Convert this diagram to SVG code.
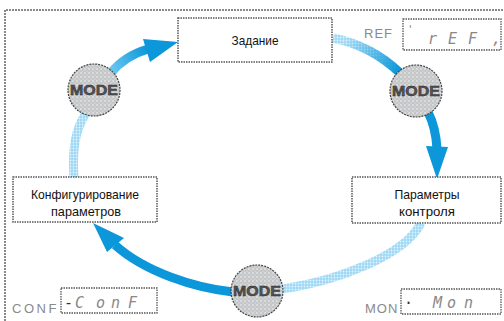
<svg xmlns="http://www.w3.org/2000/svg" width="504" height="321" viewBox="0 0 504 321">
<defs>
<pattern id="dots" width="4" height="4" patternUnits="userSpaceOnUse"><rect width="4" height="4" fill="#c6c6c6"/><circle cx="1" cy="1" r="0.8" fill="#eef7fc"/><circle cx="3" cy="3" r="0.6" fill="#dbeef8"/></pattern>
<pattern id="stip" width="3" height="3" patternUnits="userSpaceOnUse"><rect width="3" height="3" fill="#9ed9f5"/><circle cx="1.5" cy="1.5" r="0.9" fill="#e4f5fd"/></pattern>
<linearGradient id="g1" gradientUnits="userSpaceOnUse" x1="110" y1="73" x2="148" y2="49"><stop offset="0" stop-color="#6fcaf1"/><stop offset="1" stop-color="#0b97d9"/></linearGradient>
<linearGradient id="g2" gradientUnits="userSpaceOnUse" x1="345" y1="42" x2="398" y2="72"><stop offset="0" stop-color="#0b97d9" stop-opacity="0"/><stop offset="1" stop-color="#0b97d9" stop-opacity="1"/></linearGradient>
</defs>
<style>
.frame{fill:none;stroke:#8a8a8a;stroke-width:2;stroke-dasharray:2 1}
.box{fill:#fff;stroke:#555;stroke-width:1.5;stroke-dasharray:1.5 1}
.lbl{font-family:"Liberation Sans",Arial,sans-serif;font-size:13px;fill:#111;text-anchor:middle}
.mode{fill:url(#dots);stroke:#444;stroke-width:1.2;stroke-dasharray:2 1}
.mt{font-family:"Liberation Sans",Arial,sans-serif;font-weight:bold;font-size:14px;fill:#555;stroke:#222;stroke-width:0.4;text-anchor:middle}
.conn{fill:none;stroke-width:9}
.solid{stroke:#0b97d9}
.head{fill:#0b97d9}
.light{stroke:url(#stip)}
.dl{font-family:"Liberation Sans",Arial,sans-serif;font-size:13px;fill:#8a8a8a}
.disp{fill:#fff;stroke:#555;stroke-width:1.3;stroke-dasharray:1.5 1}
.dt{font-family:"DejaVu Sans Mono",monospace;font-style:italic;font-size:15px;fill:#888}
</style>
<path class="frame" d="M5,330 V10 H510"/>
<g id="connectors">
<path class="conn" stroke="url(#g1)" d="M110,74 Q124,56 148,49"/>
<polygon class="head" points="178,42 143,39 150,62"/>
<path class="conn light" stroke-width="10" d="M333,38 Q372,46 400,73"/>
<path class="conn" stroke="url(#g2)" stroke-width="10" d="M333,38 Q372,46 400,73"/>
<path class="conn solid" d="M428,112 Q436,128 437,149"/>
<polygon class="head" points="426,146 448,147 437,179"/>
<path class="conn light" d="M421,223 C405,255 340,280 283,289"/>
<path class="conn solid" d="M233,292 C195,288 145,272 115,245"/>
<polygon class="head" points="93,223 124,238 107,252"/>
<path class="conn light" stroke-width="8" d="M74,178 C72,150 75,130 86,113"/>
</g>
<g id="node-zadanie">
<rect class="box" x="178" y="18" width="154" height="44"/>
<text class="lbl" x="255" y="45" textLength="47" lengthAdjust="spacingAndGlyphs">Задание</text>
</g>
<g id="node-params-control">
<rect class="box" x="352" y="177" width="149" height="46"/>
<text class="lbl" x="427" y="199" textLength="65" lengthAdjust="spacingAndGlyphs">Параметры</text>
<text class="lbl" x="427" y="216" textLength="56" lengthAdjust="spacingAndGlyphs">контроля</text>
</g>
<g id="node-config">
<rect class="box" x="13" y="177" width="144" height="45"/>
<text class="lbl" x="85" y="199" textLength="108" lengthAdjust="spacingAndGlyphs">Конфигурирование</text>
<text class="lbl" x="86" y="216" textLength="70" lengthAdjust="spacingAndGlyphs">параметров</text>
</g>
<g id="mode-left">
<circle class="mode" cx="94" cy="90" r="26"/>
<text class="mt" x="94" y="95" textLength="48" lengthAdjust="spacingAndGlyphs">MODE</text>
</g>
<g id="mode-right">
<circle class="mode" cx="416" cy="91" r="26"/>
<text class="mt" x="416" y="96" textLength="48" lengthAdjust="spacingAndGlyphs">MODE</text>
</g>
<g id="mode-bottom">
<circle class="mode" cx="257" cy="291" r="26"/>
<text class="mt" x="257" y="296" textLength="48" lengthAdjust="spacingAndGlyphs">MODE</text>
</g>
<g id="display-ref">
<text class="dl" x="364" y="38" letter-spacing="1">REF</text>
<rect class="disp" x="403" y="19" width="98" height="31"/>
<text class="dt" y="43"><tspan x="407" y="33" font-size="11">'</tspan><tspan x="428" y="44">r</tspan><tspan x="448" y="44">E</tspan><tspan x="468" y="44">F</tspan><tspan x="492" y="44">,</tspan></text>
</g>
<g id="display-conf">
<text class="dl" x="12" y="313" letter-spacing="2.5">CONF</text>
<rect class="disp" x="61" y="288" width="96" height="25"/>
<text class="dt" y="308"><tspan x="64" font-style="normal" fill="#333">-</tspan><tspan x="75">C</tspan><tspan x="96">o</tspan><tspan x="111">n</tspan><tspan x="128">F</tspan></text>
</g>
<g id="display-mon">
<text class="dl" x="365" y="313" letter-spacing="1">MON</text>
<rect class="disp" x="401" y="289" width="100" height="25"/>
<text class="dt" y="308"><tspan x="404" font-style="normal" fill="#333">·</tspan><tspan x="433">M</tspan><tspan x="447">o</tspan><tspan x="464">n</tspan></text>
</g>
</svg>
